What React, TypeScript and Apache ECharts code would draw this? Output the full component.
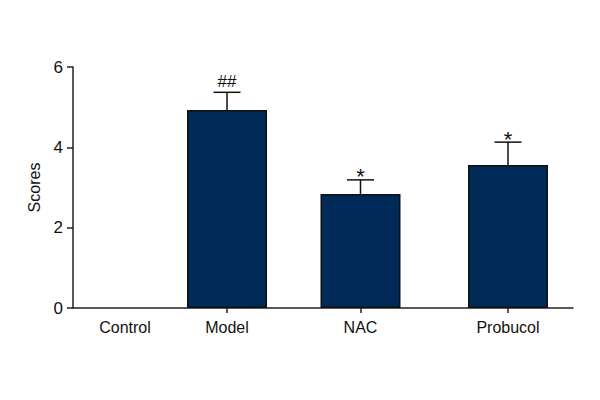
import React, { useEffect, useRef } from "react";
import * as echarts from "echarts";

const categories = ["Control", "Model", "NAC", "Probucol"];
// horizontal positions of each group along the x axis (axis runs 0..500)
const positions = [52, 154, 287.5, 435];
const means = [0, 4.93, 2.84, 3.56];
const errors = [0, 0.44, 0.35, 0.57];
const marks = ["", "##", "*", "*"];
const yTicks = [0, 2, 4, 6];

const FONT = "'Liberation Sans Narrow', 'Arial Narrow', 'Liberation Sans', Arial, sans-serif";
const BAR = "#002b59";

export default function App() {
  const ref = useRef<HTMLDivElement>(null);
  useEffect(() => {
    if (!ref.current) return;
    const chart = echarts.init(ref.current, undefined, { renderer: "svg" });
    const labelMap: Record<number, string> = {};
    positions.forEach((p, i) => (labelMap[p] = categories[i]));
    chart.setOption({
      animation: false,
      grid: { left: 73, right: 27, top: 67, bottom: 92 },
      xAxis: {
        type: "value",
        min: 0,
        max: 500,
        splitLine: { show: false },
        axisLine: { show: true, lineStyle: { color: "#222", width: 1.5 } },
        axisTick: {
          show: true,
          customValues: positions.slice(1),
          length: 5,
          lineStyle: { color: "#222", width: 1.5 },
        },
        axisLabel: {
          customValues: positions,
          formatter: (v: number) => labelMap[v] ?? "",
          fontFamily: FONT,
          fontSize: 16,
          color: "#111",
          margin: 11,
        },
      },
      yAxis: {
        type: "value",
        min: 0,
        max: 6,
        interval: 2,
        name: "Scores",
        nameLocation: "middle",
        nameGap: 29,
        nameTextStyle: { fontFamily: FONT, fontSize: 16, color: "#111" },
        splitLine: { show: false },
        axisLine: { show: true, lineStyle: { color: "#222", width: 1.5 } },
        axisTick: { show: true, inside: false, length: 6, lineStyle: { color: "#222", width: 1.5 } },
        axisLabel: {
          fontFamily: FONT,
          fontSize: 17,
          color: "#111",
          margin: 10,
          formatter: (v: number) => (yTicks.includes(v) ? String(v) : ""),
        },
      },
      series: [
        {
          type: "bar",
          barWidth: 80,
          data: positions.map((p, i) => ({
            value: [p, means[i]],
            itemStyle: means[i] === 0 ? { borderWidth: 0, opacity: 0 } : undefined,
          })),
          itemStyle: { color: BAR, borderColor: "#111", borderWidth: 1.5 },
          z: 2,
        },
        {
          type: "custom",
          z: 3,
          data: positions.map((p, i) => [p, means[i], errors[i], i]),
          renderItem: (params: any, api: any) => {
            const x = api.value(0);
            const m = api.value(1);
            const e = api.value(2);
            const idx = api.value(3);
            if (!m) return { type: "group", children: [] };
            const base = api.coord([x, m]);
            const top = api.coord([x, m + e]);
            const half = 13.5;
            const mark = marks[idx];
            const isStar = mark === "*";
            return {
              type: "group",
              children: [
                {
                  type: "line",
                  shape: { x1: base[0], y1: base[1], x2: top[0], y2: top[1] },
                  style: { stroke: "#111", lineWidth: 1.5 },
                },
                {
                  type: "line",
                  shape: { x1: top[0] - half, y1: top[1], x2: top[0] + half, y2: top[1] },
                  style: { stroke: "#111", lineWidth: 1.5 },
                },
                {
                  type: "text",
                  x: top[0],
                  y: top[1] - (isStar ? 3 : 11),
                  style: {
                    text: mark,
                    fontFamily: FONT,
                    fontSize: isStar ? 22 : 17,
                    fill: "#111",
                    align: "center",
                    verticalAlign: "middle",
                  },
                },
              ],
            };
          },
        },
      ],
    });
    return () => chart.dispose();
  }, []);
  return <div ref={ref} style={{ width: 600, height: 400, marginLeft: -8, marginTop: -8 }} />;
}
